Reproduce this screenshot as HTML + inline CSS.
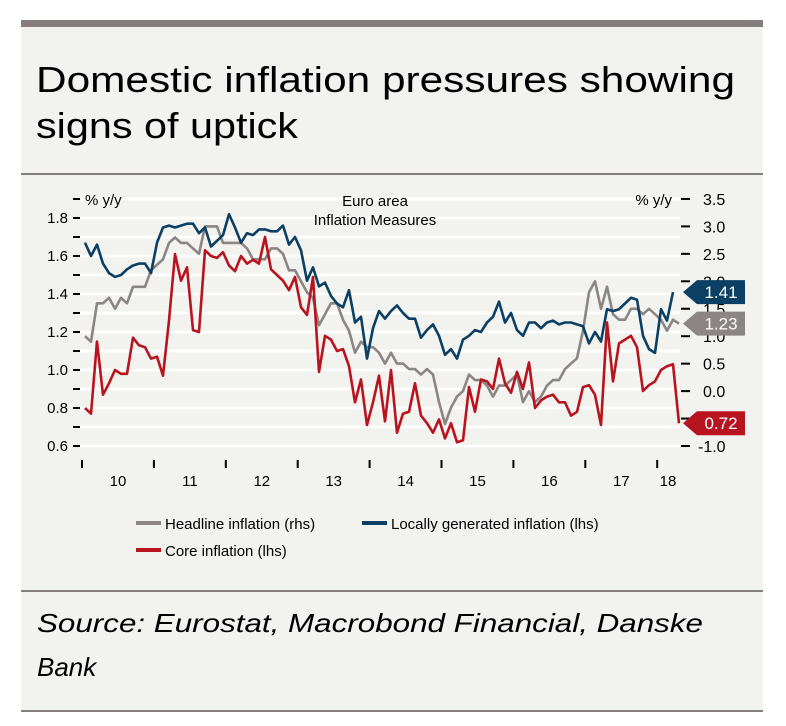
<!DOCTYPE html>
<html><head><meta charset="utf-8"><style>
html,body{margin:0;padding:0;background:#fff;}
svg{display:block;font-family:"Liberation Sans",sans-serif;}
</style></head><body>
<svg id="chart" width="786" height="726" viewBox="0 0 786 726">
<rect x="21" y="20" width="742" height="692" fill="#f2f2ee"/>
<rect x="21" y="20" width="742" height="7" fill="#857d7d"/>
<text x="36" y="92" font-size="36" fill="#000" textLength="699" lengthAdjust="spacingAndGlyphs">Domestic inflation pressures showing</text>
<text x="36" y="138" font-size="36" fill="#000" textLength="262" lengthAdjust="spacingAndGlyphs">signs of uptick</text>
<rect x="21" y="173" width="742" height="2" fill="#857d7d"/>
<g id="grid"></g>
<g id="axes"></g>
<text x="85" y="205" font-size="15">% y/y</text>
<text x="672" y="205" font-size="15" text-anchor="end">% y/y</text>
<text x="375" y="206" font-size="15" text-anchor="middle">Euro area</text>
<text x="375" y="225" font-size="15" text-anchor="middle">Inflation Measures</text>
<g id="series"></g>
<g id="labels"></g>
<g>
<g><rect x="136" y="521" width="25" height="4" fill="#8c8585"/><text x="165" y="529" font-size="15">Headline inflation (rhs)</text></g>
<g><rect x="362" y="521" width="25" height="4" fill="#0b3f63"/><text x="391" y="529" font-size="15">Locally generated inflation  (lhs)</text></g>
<g><rect x="136" y="548" width="25" height="4" fill="#b8141f"/><text x="165" y="556" font-size="15">Core inflation (lhs)</text></g>
</g>
<rect x="21" y="590" width="742" height="2" fill="#857d7d"/>
<text x="37" y="632" font-size="26" font-style="italic" textLength="666" lengthAdjust="spacingAndGlyphs">Source: Eurostat, Macrobond Financial, Danske</text>
<text x="37" y="676" font-size="26" font-style="italic">Bank</text>
<rect x="21" y="710" width="742" height="2" fill="#857d7d"/>
</svg>
<script>
const leftTicks = [0.6,0.7,0.8,0.9,1.0,1.1,1.2,1.3,1.4,1.5,1.6,1.7,1.8,1.9];
const leftTickLabels = ["0.6","","0.8","","1.0","","1.2","","1.4","","1.6","","1.8",""];
const rightTicks = [-1.0,-0.5,0.0,0.5,1.0,1.5,2.0,2.5,3.0,3.5];
const rightTickLabels = ["-1.0","0.5","0.0","0.5","1.0","1.5","2.0","2.5","3.0","3.5"];
rightTickLabels[1] = "-0.5";
const years = ["10","11","12","13","14","15","16","17","18"];
const headline = [1.0,0.9,1.6,1.6,1.7,1.5,1.7,1.6,1.9,1.9,1.9,2.2,
2.3,2.4,2.7,2.8,2.7,2.7,2.6,2.5,3.0,3.0,3.0,2.7,
2.7,2.7,2.7,2.6,2.4,2.4,2.4,2.6,2.6,2.5,2.2,2.2,
2.0,1.8,1.7,1.2,1.4,1.6,1.6,1.3,1.1,0.7,0.9,0.8,
0.8,0.7,0.5,0.7,0.5,0.5,0.4,0.4,0.3,0.4,0.3,-0.2,
-0.6,-0.3,-0.1,0.0,0.3,0.2,0.2,0.1,-0.1,0.1,0.1,0.2,
0.3,-0.2,0.0,-0.2,-0.1,0.1,0.2,0.2,0.4,0.5,0.6,1.1,
1.8,2.0,1.5,1.9,1.4,1.3,1.3,1.5,1.5,1.4,1.5,1.4,
1.3,1.1,1.3,1.23];
const locallyGenerated = [1.67,1.60,1.66,1.56,1.51,1.49,1.50,1.53,1.55,1.56,1.56,1.51,1.67,1.75,1.76,1.75,1.76,1.77,1.77,1.72,1.75,1.65,1.68,1.71,1.82,
1.75,1.67,1.72,1.71,1.74,1.74,1.73,1.73,1.76,1.66,1.70,1.63,1.47,1.54,1.44,1.46,1.39,1.35,1.33,1.42,1.25,1.28,1.06,1.22,1.31,
1.27,1.31,1.34,1.30,1.27,1.27,1.17,1.21,1.24,1.18,1.08,1.11,1.06,1.16,1.18,1.21,1.20,1.25,1.28,1.36,1.25,1.30,1.21,1.18,1.25,
1.25,1.22,1.25,1.26,1.24,1.25,1.25,1.24,1.23,1.14,1.20,1.15,1.32,1.31,1.32,1.35,1.38,1.37,1.18,1.11,1.09,1.32,1.26,1.41];
const core = [0.80,0.77,1.15,0.87,0.93,1.00,0.98,0.98,1.17,1.13,1.12,1.06,1.07,0.97,1.26,1.61,1.47,1.54,1.21,1.20,1.63,1.60,1.59,1.62,1.55,
1.52,1.60,1.56,1.58,1.56,1.70,1.53,1.50,1.47,1.42,1.49,1.33,1.29,1.49,0.99,1.18,1.16,1.10,1.11,1.02,0.83,0.95,0.71,0.83,0.97,
0.73,1.00,0.67,0.77,0.78,0.93,0.76,0.72,0.67,0.74,0.64,0.72,0.62,0.63,0.91,0.78,0.95,0.94,0.90,1.06,0.93,0.88,0.99,0.90,1.04,
0.80,0.84,0.86,0.87,0.83,0.83,0.76,0.78,0.91,0.92,0.87,0.71,1.25,0.94,1.14,1.16,1.18,1.12,0.89,0.92,0.94,1.00,1.02,1.03,0.72];

const NS = "http://www.w3.org/2000/svg";
const xM = i => 85 + 6 * i;
const yL = v => 446 - (v - 0.6) * 190;
const yR = v => 446 - (v + 1) * 54.9;
const xYear = k => 82 + 71.9 * k;
function mk(tag, attrs, parent){const e=document.createElementNS(NS,tag);for(const k in attrs)e.setAttribute(k,attrs[k]);parent.appendChild(e);return e;}
const grid=document.getElementById('grid'), axes=document.getElementById('axes'), series=document.getElementById('series'), labels=document.getElementById('labels');

leftTicks.forEach((v,i)=>{
  const y=yL(v);
  const g=mk('line',{x1:80,x2:680,y1:y,y2:y,stroke:'#fff','stroke-width':2.5},grid);
  
  
  const t=mk('line',{x1:73,x2:80,y1:y,y2:y,stroke:'#000','stroke-width':2},axes);
  
  
  if(leftTickLabels[i]){
    const l=mk('text',{x:68,y:y+5,'font-size':15,'text-anchor':'end'},axes);
    l.textContent=leftTickLabels[i];
    
    
  }
});
rightTicks.forEach((v,i)=>{
  const y=yR(v);
  const t=mk('line',{x1:681,x2:690,y1:y,y2:y,stroke:'#000','stroke-width':2},axes);
  
  
  const l=mk('text',{x:v<0?698:703,y:y+6,'font-size':16},axes);
  l.textContent=rightTickLabels[i];
  
  
});
years.forEach((yr,k)=>{
  const x=xYear(k);
  const t=mk('line',{x1:x,x2:x,y1:460,y2:468,stroke:'#000','stroke-width':2},axes);
  
  
  const cx = k<years.length-1 ? x+36 : 668;
  const l=mk('text',{x:cx,y:486,'font-size':15,'text-anchor':'middle'},axes);
  l.textContent=yr;
  
  
});
function line(data, yf, color, name){
  const d=data.map((v,i)=>(i?'L':'M')+xM(i).toFixed(1)+','+yf(v).toFixed(1)).join(' ');
  const p=mk('path',{d:d,fill:'none',stroke:color,'stroke-width':2.6,'stroke-linejoin':'round'},series);
  
  
}
line(headline,yR,'#8c8585','headline-inflation-line');
line(locallyGenerated,yL,'#0b3f63','locally-generated-inflation-line');
line(core,yL,'#b8141f','core-inflation-line');
function endLabel(v, y, color, name){
  const g=mk('g',{},labels);
  
  
  mk('path',{d:`M683,${y} L697,${y-12} L745,${y-12} L745,${y+12} L697,${y+12} Z`,fill:color},g);
  const t=mk('text',{x:721,y:y+6,'font-size':17,'text-anchor':'middle',fill:'#fff'},g);
  t.textContent=v.toFixed(2);
}
endLabel(locallyGenerated[locallyGenerated.length-1], yL(locallyGenerated[locallyGenerated.length-1]), '#0b3f63','locally-generated-end-label');
endLabel(headline[headline.length-1], yR(headline[headline.length-1]), '#8c8585','headline-end-label');
endLabel(core[core.length-1], yL(core[core.length-1]), '#b8141f','core-end-label');
</script>
</body></html>
